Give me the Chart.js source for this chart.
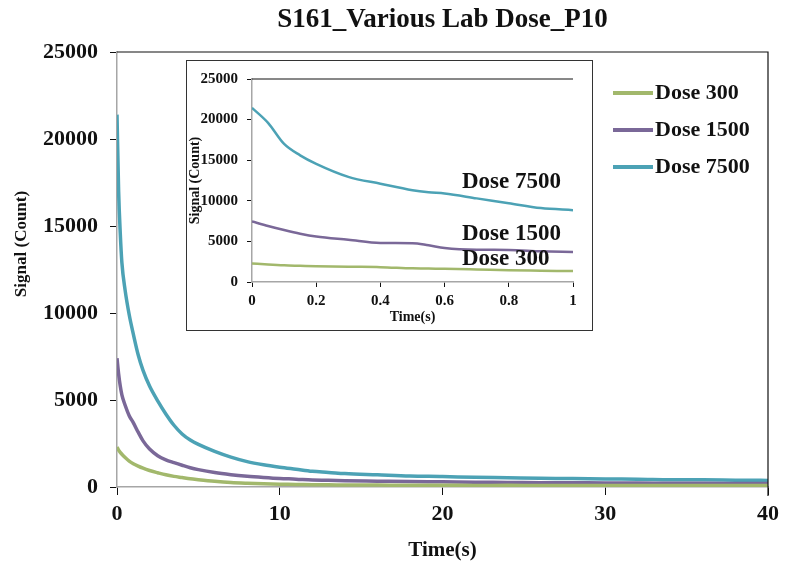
<!DOCTYPE html>
<html>
<head>
<meta charset="utf-8">
<script src="https://cdn.jsdelivr.net/npm/chart.js@4.4.0/dist/chart.umd.min.js"></script>
<style>
  body { margin: 0; background: #fff; }
  #wrap { position: relative; width: 785px; height: 567px; }
  #mainChart { position: absolute; left: 0; top: 0; }
  #insetBox { position: absolute; left: 186px; top: 60px; width: 407px; height: 271px;
              border: 1.5px solid #333; box-sizing: border-box; background: #fff; }
</style>
</head>
<body>
<div id="wrap">
  <canvas id="mainChart" width="785" height="567"></canvas>
  <div id="insetBox"><canvas id="insetChart" width="404" height="268"></canvas></div>
</div>
<script>
const chartTitle = 'S161_Various Lab Dose_P10'
const seriesLabels = ['Dose 300', 'Dose 1500', 'Dose 7500']
const seriesColors = ['#a2b86c', '#7a6898', '#4ca2b5']

// full 40 s trace
const mainTime = [0, 0.1, 0.2, 0.3, 0.5, 0.75, 1, 1.3, 1.6, 2, 2.5, 3, 3.5, 4, 4.5, 5, 6, 7, 8, 9,
  10, 11, 12, 13, 14, 16, 18, 20, 22, 24, 26, 28, 30, 32, 34, 36, 38, 40]
const dose300Main = [2300, 2120, 1990, 1880, 1690, 1490, 1340, 1200, 1080, 950, 820, 700, 610, 540, 470, 420, 330, 260, 215, 180,
  160, 150, 130, 125, 115, 110, 100, 98, 92, 94, 88, 90, 85, 86, 83, 84, 81, 80]
const dose1500Main = [7400, 6500, 5800, 5300, 4700, 4100, 3700, 3150, 2650, 2180, 1800, 1560, 1400, 1250, 1110, 1000, 830, 710, 620, 550,
  490, 450, 400, 385, 360, 335, 310, 295, 275, 265, 250, 245, 230, 228, 215, 212, 205, 200]
const dose7500Main = [21400, 17000, 14600, 12900, 11300, 9900, 8800, 7600, 6700, 5800, 4950, 4200, 3550, 3050, 2700, 2450, 2050, 1720, 1460, 1280,
  1140, 1020, 900, 840, 770, 700, 630, 600, 555, 530, 500, 490, 460, 450, 420, 415, 395, 380]

// zoomed first second
const insetTime = [0, 0.05, 0.1, 0.15, 0.2, 0.3, 0.4, 0.5, 0.55, 0.6, 0.7, 0.8, 0.9, 1]
const dose300Inset = [2280, 2150, 2050, 2000, 1950, 1880, 1830, 1680, 1650, 1630, 1550, 1460, 1400, 1340]
const dose1500Inset = [7450, 6900, 6400, 5950, 5600, 5200, 4800, 4780, 4520, 4200, 3980, 3950, 3780, 3700]
const dose7500Inset = [21450, 19600, 17000, 15600, 14550, 12950, 12100, 11300, 11050, 10900, 10300, 9700, 9100, 8850]

const yTicks = [0, 5000, 10000, 15000, 20000, 25000]

Chart.defaults.font.family = "'Liberation Serif', 'Times New Roman', serif"
Chart.defaults.font.weight = 'bold'
Chart.defaults.color = '#111'

function toPoints(xs, ys) {
    return xs.map((x, i) => ({ x: x, y: ys[i] }))
}

function makeDatasets(xs, seriesList, width) {
    return seriesList.map((ys, i) => ({
        label: seriesLabels[i],
        data: toPoints(xs, ys),
        borderColor: seriesColors[i],
        backgroundColor: seriesColors[i],
        borderWidth: width,
        pointRadius: 0,
        cubicInterpolationMode: 'monotone'
    }))
}

function axisOpts(size, tickLen, pad) {
    return {
        grid: { drawOnChartArea: false, tickLength: tickLen, tickColor: '#111', tickWidth: 1 },
        border: { color: '#a6a6a6', width: 1.5 },
        ticks: { font: { size: size }, padding: pad, maxRotation: 0 }
    }
}

// top/right frame, overlay legend and y title for the big chart
const mainDecor = {
    id: 'mainDecor',
    afterDraw(chart) {
        const ctx = chart.ctx
        const a = chart.chartArea
        ctx.save()
        ctx.strokeStyle = '#111'
        ctx.lineWidth = 1.2
        ctx.beginPath()
        ctx.moveTo(a.left, a.top)
        ctx.lineTo(a.right, a.top)
        ctx.lineTo(a.right, a.bottom + 9)
        ctx.stroke()

        ctx.font = "bold 22px 'Liberation Serif'"
        ctx.textBaseline = 'middle'
        chart.data.datasets.forEach((ds, i) => {
            const y = 93 + i * 37
            ctx.strokeStyle = ds.borderColor
            ctx.lineWidth = 4
            ctx.beginPath()
            ctx.moveTo(613, y)
            ctx.lineTo(653, y)
            ctx.stroke()
            ctx.fillStyle = '#111'
            ctx.fillText(ds.label, 655, y)
        })

        ctx.translate(22, 244)
        ctx.rotate(-Math.PI / 2)
        ctx.font = "bold 17px 'Liberation Serif'"
        ctx.textAlign = 'center'
        ctx.fillText('Signal (Count)', 0, 0)
        ctx.restore()
    }
}

const insetDecor = {
    id: 'insetDecor',
    afterDraw(chart) {
        const ctx = chart.ctx
        const a = chart.chartArea
        ctx.save()
        ctx.strokeStyle = '#111'
        ctx.lineWidth = 1
        ctx.beginPath()
        ctx.moveTo(a.left, a.top)
        ctx.lineTo(a.right, a.top)
        ctx.stroke()
        ctx.font = "bold 23px 'Liberation Serif'"
        ctx.textBaseline = 'middle'
        ctx.fillStyle = '#111'
        const labelY = [198, 173, 121]
        chart.data.datasets.forEach((ds, i) => {
            ctx.fillText(ds.label, 275, labelY[i])
        })
        ctx.restore()
    }
}

const mainX = axisOpts(22, 8, 6)
mainX.type = 'linear'
mainX.min = 0
mainX.max = 40
mainX.ticks.stepSize = 10
mainX.ticks.callback = v => String(v)
mainX.title = { display: true, text: 'Time(s)', font: { size: 21 }, padding: { top: 0, bottom: 4 } }
mainX.afterFit = s => { s.height = 80 }

const mainY = axisOpts(22, 7, 12)
mainY.min = 0
mainY.max = 25000
mainY.afterBuildTicks = s => { s.ticks = yTicks.map(v => ({ value: v })) }
mainY.ticks.callback = v => String(v)
mainY.afterFit = s => { s.width = 117 }

new Chart(document.getElementById('mainChart'), {
    type: 'line',
    data: { datasets: makeDatasets(mainTime, [dose300Main, dose1500Main, dose7500Main], 3.5) },
    options: {
        responsive: false,
        animation: false,
        layout: { padding: { left: 0, right: 16, top: 0, bottom: 0 } },
        plugins: {
            legend: { display: false },
            tooltip: { enabled: false },
            title: { display: true, text: chartTitle, fullSize: false, font: { size: 27 },
                     padding: { top: 4, bottom: 15.6 }, color: '#111' }
        },
        scales: { x: mainX, y: mainY }
    },
    plugins: [mainDecor]
})

const insetX = axisOpts(15, 5, 5)
insetX.type = 'linear'
insetX.min = 0
insetX.max = 1
insetX.ticks.stepSize = 0.2
insetX.ticks.callback = v => String(+v.toFixed(1))
insetX.title = { display: true, text: 'Time(s)', font: { size: 14 }, padding: { top: 0, bottom: 3.6 } }
insetX.afterFit = s => { s.height = 47 }

const insetY = axisOpts(15, 5, 9)
insetY.min = 0
insetY.max = 25000
insetY.afterBuildTicks = s => { s.ticks = yTicks.map(v => ({ value: v })) }
insetY.ticks.callback = v => String(v)
insetY.title = { display: true, text: 'Signal (Count)', font: { size: 14 }, padding: 0 }
insetY.afterFit = s => { s.width = 65 }

new Chart(document.getElementById('insetChart'), {
    type: 'line',
    data: { datasets: makeDatasets(insetTime, [dose300Inset, dose1500Inset, dose7500Inset], 2.5) },
    options: {
        responsive: false,
        animation: false,
        layout: { padding: { left: 0, right: 18, top: 16, bottom: 0 } },
        plugins: { legend: { display: false }, tooltip: { enabled: false } },
        scales: { x: insetX, y: insetY }
    },
    plugins: [insetDecor]
})
</script>
</body>
</html>
